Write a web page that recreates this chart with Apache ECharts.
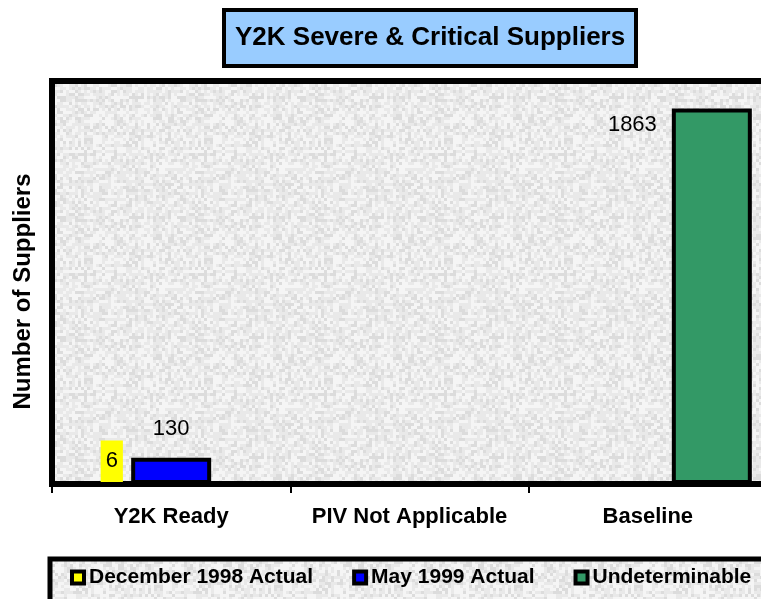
<!DOCTYPE html>
<html>
<head>
<meta charset="utf-8">
<script src="https://cdn.jsdelivr.net/npm/echarts@6/dist/echarts.min.js"></script>
<style>
  html, body { margin: 0; padding: 0; background: #fff; }
  #chart { width: 761px; height: 599px; }
</style>
</head>
<body>
<div id="chart"></div>
<script>
// data
const categories = ["Y2K Ready", "PIV Not Applicable", "Baseline"]
const dec1998 = [6, "-", "-"]
const may1999 = [130, "-", "-"]
const undeterminable = ["-", "-", 1863]
const seriesNames = ["December 1998 Actual", "May 1999 Actual", "Undeterminable"]

const font = "Liberation Sans, Arial, sans-serif"

// speckled gray texture (fixed hash, only decoration)
const makeTexture = () => {
  const c = document.createElement("canvas")
  c.width = 120
  c.height = 120
  const ctx = c.getContext("2d")
  ctx.fillStyle = "#e9e9e9"
  ctx.fillRect(0, 0, 120, 120)
  for (let y = 0; y < 120; y += 3) {
    for (let x = 0; x < 120; x += 3) {
      const h = Math.abs(Math.sin(x * 12.9898 + y * 78.233) * 43758.5453) % 1
      if (h < 0.22) ctx.fillStyle = "#dcdcdc"
      else if (h > 0.62) ctx.fillStyle = "#f5f5f5"
      else continue
      ctx.fillRect(x, y, 3, 3)
    }
  }
  return { image: c, repeat: "repeat" }
}
const texture = makeTexture()

const chart = echarts.init(document.getElementById("chart"))

const option = {
  animation: false,
  title: {
    text: "Y2K Severe & Critical Suppliers",
    left: 224,
    top: 10,
    padding: [15, 11],
    backgroundColor: "#99ccff",
    borderColor: "#000",
    borderWidth: 4,
    textStyle: {
      fontFamily: font,
      fontSize: 26,
      fontWeight: "bold",
      color: "#000",
    },
  },
  legend: {
    data: seriesNames,
    icon: "rect",
    left: 50,
    top: 559,
    width: 900,
    padding: [8, 60, 20, 20],
    itemGap: 39,
    itemWidth: 12,
    itemHeight: 12,
    backgroundColor: texture,
    borderColor: "#000",
    borderWidth: 5,
    itemStyle: {
      borderColor: "#000",
      borderWidth: 4,
    },
    textStyle: {
      fontFamily: font,
      fontSize: 21,
      fontWeight: "bold",
      color: "#000",
    },
  },
  grid: {
    show: true,
    left: 52,
    top: 81,
    width: 715,
    height: 403,
    containLabel: false,
    outerBoundsMode: "none",
    backgroundColor: texture,
    borderColor: "#000",
    borderWidth: 6,
  },
  xAxis: {
    type: "category",
    data: categories,
    axisLine: { lineStyle: { color: "#000", width: 5 } },
    axisTick: { show: true, inside: false, length: 9, lineStyle: { color: "#000", width: 2 } },
    axisLabel: {
      interval: 0,
      margin: 22,
      fontFamily: font,
      fontSize: 22,
      fontWeight: "bold",
      color: "#000",
    },
    z: 10,
  },
  yAxis: {
    type: "value",
    min: 0,
    max: 2000,
    name: "Number of Suppliers",
    nameLocation: "middle",
    nameRotate: 90,
    nameGap: 17,
    nameTextStyle: {
      fontFamily: font,
      fontSize: 24,
      fontWeight: "bold",
      color: "#000",
      padding: [0, 18, 0, 0],
    },
    axisLine: { show: false },
    axisTick: { show: false },
    axisLabel: { show: false },
    splitLine: { show: false },
  },
  series: [
    {
      name: seriesNames[0],
      type: "bar",
      data: dec1998,
      barWidth: 80,
      barGap: "-20%",
      itemStyle: { color: "#ffff00", borderColor: "#000", borderWidth: 4 },
      label: {
        show: true,
        position: [46, -20],
        align: "center",
        verticalAlign: "middle",
        backgroundColor: "#ffff00",
        padding: [10, 5],
        fontFamily: font,
        fontSize: 22,
        color: "#000",
      },
    },
    {
      name: seriesNames[1],
      type: "bar",
      data: may1999,
      barWidth: 80,
      barGap: "-20%",
      itemStyle: { color: "#0000ff", borderColor: "#000", borderWidth: 4 },
      label: {
        show: true,
        position: "top",
        distance: 18,
        fontFamily: font,
        fontSize: 22,
        color: "#000",
      },
    },
    {
      name: seriesNames[2],
      type: "bar",
      data: undeterminable,
      barWidth: 80,
      barGap: "-20%",
      itemStyle: { color: "#339966", borderColor: "#000", borderWidth: 4 },
      label: {
        show: true,
        position: [-15, 16],
        align: "right",
        verticalAlign: "middle",
        fontFamily: font,
        fontSize: 22,
        color: "#000",
      },
    },
  ],
}

chart.setOption(option)
</script>
</body>
</html>
